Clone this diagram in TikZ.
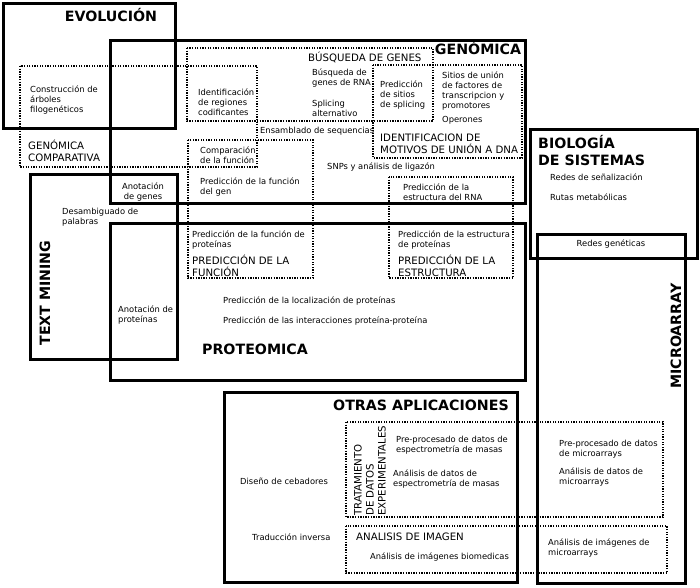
\documentclass[tikz,border=0pt]{standalone}
\usepackage{fontspec}
\setmainfont{DejaVu Sans}
\begin{document}
\begin{tikzpicture}[x=1pt,y=-1pt]
        \tikzset{area/.style={line width=3pt},
                 sub/.style={line width=1.4pt, dash pattern=on 1.3pt off 1.3pt},
                 txt/.style={font=\fontsize{8.35}{10.2}\selectfont, align=left, anchor=west, inner sep=0pt},
                 mid/.style={font=\fontsize{10.2}{12}\selectfont, align=left, anchor=west, inner sep=0pt},
                 big/.style={font=\fontsize{14.2}{17}\selectfont\bfseries, align=left, inner sep=0pt}}
        \useasboundingbox (0,0) rectangle (700,587);
        % thick areas
        \draw[area] (3,3) rectangle (175,128);
        \draw[area] (110,40) rectangle (525,203);
        \draw[area] (30,174) rectangle (177,359);
        \draw[area] (110,223) rectangle (525,380);
        \draw[area] (530,129) rectangle (697,258);
        \draw[area] (537,234) rectangle (685,583);
        \draw[area] (224,392) rectangle (517,582);
        % dotted sub-areas
        \draw[sub] (20,66) rectangle (257,167);
        \draw[sub] (187,48) rectangle (433,121);
        \draw[sub] (373,65) rectangle (522,158);
        \draw[sub] (188,140) rectangle (313,278);
        \draw[sub] (389,177) rectangle (513,278);
        \draw[sub] (346,422) rectangle (663,517);
        \draw[sub] (346,526) rectangle (667,573);
        % titles
        \node[big] (evol) at (111,15) {EVOLUCIÓN};
        \node[big] (genom) at (478,48) {GENÓMICA};
        \node[big, rotate=90] (textmin) at (45,293) {TEXT MINING};
        \node[big] (proteo) at (255,349) {PROTEOMICA};
        \node[big, anchor=west] (biosis) at (538,151) {BIOLOGÍA\\DE SISTEMAS};
        \node[big, rotate=90] (microarr) at (676,336) {MICROARRAY};
        \node[big] (otras) at (421,405) {OTRAS APLICACIONES};
        % sub-area titles
        \node[mid] (gencomp) at (28,151) {GENÓMICA\\COMPARATIVA};
        \node[mid] (busq) at (308,57) {BÚSQUEDA DE GENES};
        \node[mid] (identmot) at (380,144) {IDENTIFICACION DE\\MOTIVOS DE UNIÓN A DNA};
        \node[mid] (predfun) at (192,266) {PREDICCIÓN DE LA\\FUNCIÓN};
        \node[mid] (predest) at (398,266) {PREDICCIÓN DE LA\\ESTRUCTURA};
        \node[mid, rotate=90] (tratam) at (370,516) {TRATAMIENTO\\DE DATOS\\EXPERIMENTALES};
        \node[mid] (imagen) at (356,537) {ANALISIS DE IMAGEN};
        % tasks
        \node[txt] (arboles) at (30,100) {Construcción de\\árboles\\filogenéticos};
        \node[txt] (regiones) at (198,102) {Identificación\\de regiones\\codificantes};
        \node[txt] (genrna) at (312,78) {Búsqueda de\\genes de RNA};
        \node[txt] (splicalt) at (312,108) {Splicing\\alternativo};
        \node[txt] (sitiosspl) at (380,95) {Predicción\\de sitios\\de splicing};
        \node[txt] (sitios) at (442,91) {Sitios de unión\\de factores de\\transcripcion y\\promotores};
        \node[txt] (operones) at (442,120) {Operones};
        \node[txt] (ensamb) at (260,131) {Ensamblado de sequencias};
        \node[txt] (compfun) at (200,155) {Comparación\\de la función};
        \node[txt] (predgen) at (200,187) {Predicción de la función\\del gen};
        \node[txt] (snps) at (327,167) {SNPs y análisis de ligazón};
        \node[txt] (predrna) at (403,192) {Predicción de la\\estructura del RNA};
        \node[txt, anchor=center, align=center] (anotgen) at (143,192) {Anotación\\de genes};
        \node[txt] (desamb) at (62,217) {Desambiguado de\\palabras};
        \node[txt] (anotprot) at (118,315) {Anotación de\\proteínas};
        \node[txt] (predfunprot) at (192,240) {Predicción de la función de\\proteínas};
        \node[txt] (predestprot) at (398,240) {Predicción de la estructura\\de proteínas};
        \node[txt] (predloc) at (223,301) {Predicción de la localización de proteínas};
        \node[txt] (predint) at (223,321) {Predicción de las interacciones proteína-proteína};
        \node[txt] (redsen) at (550,177) {Redes de señalización};
        \node[txt] (rutas) at (550,197) {Rutas metabólicas};
        \node[txt, anchor=center] (redgen) at (611,244) {Redes genéticas};
        \node[txt] (cebad) at (240,481) {Diseño de cebadores};
        \node[txt] (traduc) at (252,537) {Traducción inversa};
        \node[txt] (preesp) at (396,445) {Pre-procesado de datos de\\espectrometría de masas};
        \node[txt] (analesp) at (393,479) {Análisis de datos de\\espectrometría de masas};
        \node[txt] (imgbio) at (370,557) {Análisis de imágenes biomedicas};
        \node[txt] (premic) at (559,449) {Pre-procesado de datos\\de microarrays};
        \node[txt] (analmic) at (559,477) {Análisis de datos de\\microarrays};
        \node[txt] (imgmic) at (548,548) {Análisis de imágenes de\\microarrays};
    \end{tikzpicture}
\end{document}
